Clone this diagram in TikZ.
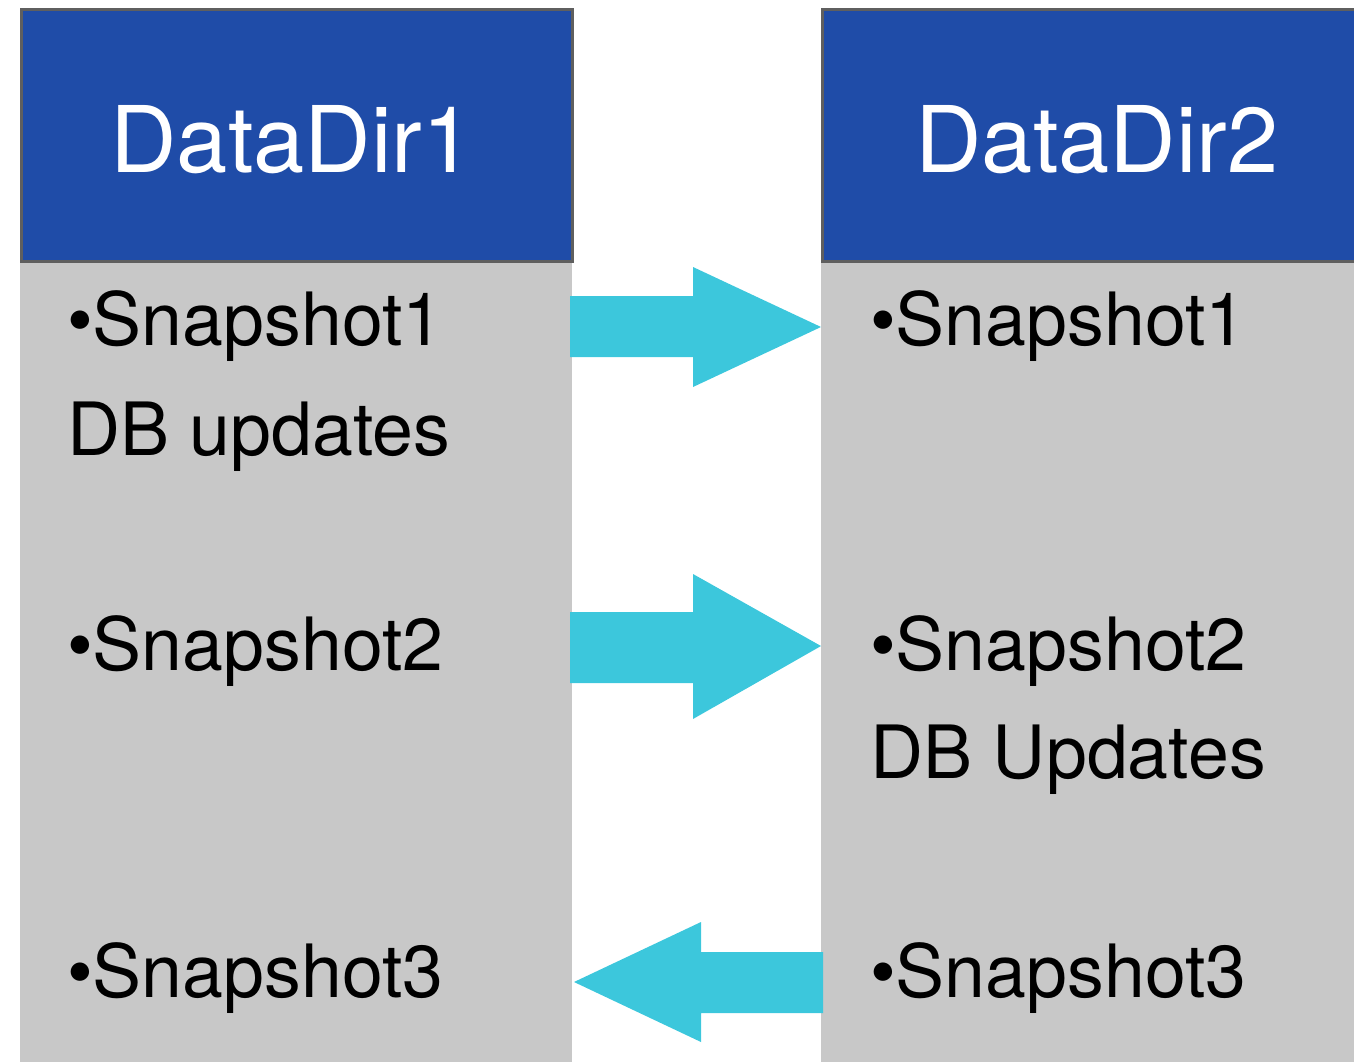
\documentclass[tikz,border=0pt]{standalone}
\usepackage{fontspec}
\setmainfont{TeX Gyre Heros}
\definecolor{hdrblue}{HTML}{1F4CA8}
\definecolor{hdrframe}{HTML}{5F5F5F}
\definecolor{bodygrey}{HTML}{C8C8C8}
\definecolor{flowcyan}{HTML}{3CC7DC}
\tikzset{
  header/.style={fill=hdrblue, draw=hdrframe, line width=3pt},
  panel/.style={fill=bodygrey},
  flow/.style={fill=flowcyan},
  hdrtext/.style={anchor=base, inner sep=0pt, text=white, font=\fontsize{92}{92}\selectfont},
  item/.style={anchor=base west, inner sep=0pt, font=\fontsize{73.5}{73.5}\selectfont}
}
\begin{document}
\begin{tikzpicture}[x=1pt,y=-1pt]
  \useasboundingbox (0,0) rectangle (1354,1062);
  % column bodies
  \fill[panel] (20,262) rectangle (572,1062);
  \fill[panel] (821,262) rectangle (1354,1062);
  % column headers
  \draw[header] (21.5,9.5) rectangle (572,261.5);
  \draw[header] (822.5,9.5) rectangle (1360,261.5);
  \node[hdrtext] (h1) at (292,172) {DataDir1};
  \node[hdrtext] (h2) at (1097,172) {DataDir2};
  % left column entries
  \node[item] (l1) at (67,345) {•Snapshot1};
  \node[item] (l1u) at (67,455) {DB updates};
  \node[item] (l2) at (67,670) {•Snapshot2};
  \node[item] (l3) at (67,997) {•Snapshot3};
  % right column entries
  \node[item] (r1) at (870,345) {•Snapshot1};
  \node[item] (r2) at (870,670) {•Snapshot2};
  \node[item] (r2u) at (870,778) {DB Updates};
  \node[item] (r3) at (870,997) {•Snapshot3};
  % transfer arrows
  \fill[flow] (570,296) -- (693,296) -- (693,267) -- (821,327) -- (693,387) -- (693,357) -- (570,357) -- cycle;
  \fill[flow] (570,612) -- (693,612) -- (693,574) -- (821,646) -- (693,719) -- (693,683) -- (570,683) -- cycle;
  \fill[flow] (823,952) -- (701,952) -- (701,922) -- (574,982) -- (701,1042) -- (701,1013) -- (823,1013) -- cycle;
\end{tikzpicture}
\end{document}
